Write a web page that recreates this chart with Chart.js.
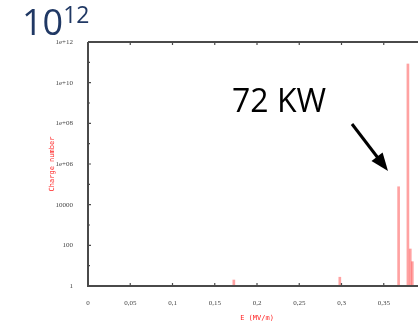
<!DOCTYPE html>
<html lang="en">
<head>
  <meta charset="UTF-8">
  <title>Charge number vs E</title>
  <script src="https://cdn.jsdelivr.net/npm/chart.js"></script>
  <style>
    html, body {
      margin: 0;
      width: 418px;
      height: 324px;
      overflow: hidden;
      background: #fff;
    }
    #wrap { position: relative; width: 418px; height: 324px; }
    #chart { position: absolute; left: 0; top: 0; }
    .note { position: absolute; font-family: 'Open Sans', sans-serif; white-space: nowrap; line-height: 1; }
    #pow { left: 22px; top: 4px; font-size: 36px; color: #203864; }
    #pow sup { font-size: 23px; position: relative; top: -1px; vertical-align: top; }
    #kw { left: 232px; top: 84px; font-size: 32px; color: #000; }
    #arrow { position: absolute; left: 0; top: 0; }
  </style>
</head>
<body>
  <div id="wrap">
    <canvas id="chart" width="440" height="324"></canvas>
    <div class="note" id="pow">10<sup>12</sup></div>
    <div class="note" id="kw">72 KW</div>
    <svg id="arrow" width="418" height="324">
      <line x1="352" y1="124" x2="378" y2="158" stroke="#000" stroke-width="3"/>
      <polygon points="388,171 382.6,152.4 371.5,161" fill="#000"/>
    </svg>
  </div>
  <script>
    // spikes: energy (MV/m) and charge number
    const energies = [0.1726, 0.298, 0.3676, 0.3786, 0.3814, 0.3838];
    const charges = [1.97, 2.7, 7.6e4, 8.3e10, 66, 15.7];
    const xTicks = [0, 0.05, 0.1, 0.15, 0.2, 0.25, 0.3, 0.35, 0.4];
    const xTickLabels = ['0', '0,05', '0,1', '0,15', '0,2', '0,25', '0,3', '0,35', '0,4'];
    const yTicks = [1, 10, 100, 1e3, 1e4, 1e5, 1e6, 1e7, 1e8, 1e9, 1e10, 1e11, 1e12];
    const yTickLabels = ['1', '', '100', '', '10000', '', '1e+06', '', '1e+08', '', '1e+10', '', '1e+12'];

    const tickFont = { family: 'Liberation Serif', size: 7 };
    const red = '#ff2020';

    // plot frame with small inward ticks, gnuplot style
    const framePlugin = {
      id: 'frame',
      afterDatasetsDraw(chart) {
        const { ctx, chartArea: a, scales } = chart;
        ctx.save();
        ctx.strokeStyle = '#4a4a4a';
        ctx.lineWidth = 2;
        ctx.beginPath();
        ctx.moveTo(a.left, a.top);
        ctx.lineTo(a.left, a.bottom);
        ctx.lineTo(chart.width, a.bottom);
        ctx.moveTo(a.left, a.top);
        ctx.lineTo(chart.width, a.top);
        ctx.stroke();
        ctx.lineWidth = 1.2;
        ctx.beginPath();
        xTicks.forEach(v => {
          const px = scales.x.getPixelForValue(v);
          ctx.moveTo(px, a.bottom);
          ctx.lineTo(px, a.bottom - 3);
          ctx.moveTo(px, a.top);
          ctx.lineTo(px, a.top + 3);
        });
        yTicks.forEach((v, i) => {
          const py = scales.y.getPixelForValue(v);
          ctx.moveTo(a.left, py);
          ctx.lineTo(a.left + (i % 2 ? 2 : 3), py);
        });
        ctx.stroke();
        ctx.restore();
      }
    };

    new Chart(document.getElementById('chart'), {
      type: 'bar',
      data: {
        datasets: [{
          data: energies.map((e, i) => ({ x: e, y: charges[i] })),
          backgroundColor: 'rgba(255, 70, 70, 0.5)',
          borderWidth: 0,
          barThickness: 2
        }]
      },
      options: {
        responsive: false,
        animation: false,
        layout: { padding: { left: 0, top: 42, right: 14, bottom: 0 } },
        plugins: { legend: { display: false }, tooltip: { enabled: false } },
        scales: {
          x: {
            type: 'linear',
            min: 0,
            max: 0.4,
            offset: false,
            grid: { display: false, offset: false },
            border: { display: false },
            afterBuildTicks: s => { s.ticks = xTicks.map(v => ({ value: v })); },
            afterFit: s => { s.height = 38; },
            ticks: {
              color: '#444',
              font: tickFont,
              padding: 5,
              maxRotation: 0,
              autoSkip: false,
              callback: (v, i) => xTickLabels[i]
            },
            title: {
              display: true,
              text: 'E (MV/m)',
              color: red,
              font: { family: 'DejaVu Sans Mono', size: 7 },
              padding: { top: 0, bottom: 1.8 }
            }
          },
          y: {
            type: 'logarithmic',
            min: 1,
            max: 1e12,
            grid: { display: false },
            border: { display: false },
            afterBuildTicks: s => { s.ticks = yTicks.map(v => ({ value: v })); },
            afterFit: s => { s.width = 88; },
            ticks: {
              color: '#444',
              font: tickFont,
              padding: 7,
              autoSkip: false,
              callback: (v, i) => yTickLabels[i]
            },
            title: {
              display: true,
              text: 'Charge number',
              color: red,
              font: { family: 'DejaVu Sans Mono', size: 7 },
              padding: { top: 48, bottom: 0 }
            }
          }
        }
      },
      plugins: [framePlugin]
    });
  </script>
</body>
</html>
